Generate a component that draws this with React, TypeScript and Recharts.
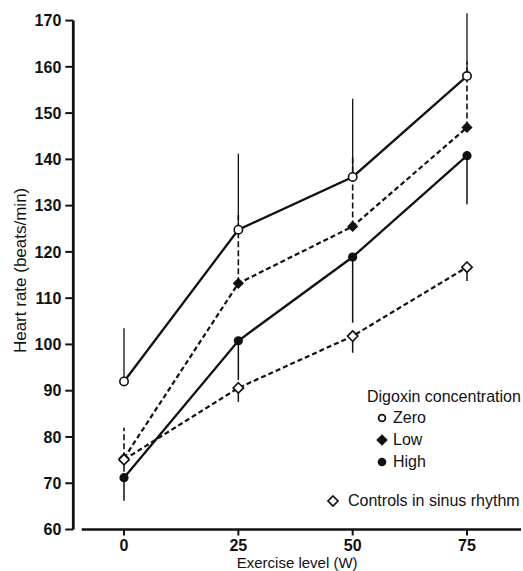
import {
  LineChart,
  Line,
  XAxis,
  YAxis,
  ErrorBar,
  ReferenceLine,
  Legend,
} from "recharts";

const INK = "#111";
const FONT = "'Liberation Sans', Arial, sans-serif";

const exerciseLevels = [0, 25, 50, 75];
const zeroMean = [92, 124.8, 136.2, 158];
const zeroUpper = [103.5, 141.2, 153.1, 171.6];
const lowMean = [75.4, 113.2, 125.5, 146.9];
const lowUpper = [82, 128, 140.6, 161.1];
const highMean = [71.2, 100.8, 118.9, 140.8];
const highLower = [66.2, 92.3, 104.7, 130.3];
const controlsMean = [75.1, 90.6, 101.8, 116.7];
const controlsLower = [72.5, 87.6, 98.2, 113.7];

const xTicks = [0, 25, 50, 75];
const yTicks = [60, 70, 80, 90, 100, 110, 120, 130, 140, 150, 160, 170];
const X_MIN = -11.09;
const X_MAX = 86.81;
const X_LINE_START = -9.26;

const digoxinLevels = ["Zero", "Low", "High"];
const controlsName = "Controls in sinus rhythm";

const data = exerciseLevels.map((x, i) => ({
  x,
  zero: zeroMean[i],
  zeroErr: [0, zeroUpper[i] - zeroMean[i]],
  low: lowMean[i],
  lowErr: [0, lowUpper[i] - lowMean[i]],
  high: highMean[i],
  highErr: [highMean[i] - highLower[i], 0],
  controls: controlsMean[i],
  controlsErr: [controlsMean[i] - controlsLower[i], 0],
}));

const diamond = (cx: number, cy: number, r: number) =>
  `M${cx},${cy - r}L${cx + r},${cy}L${cx},${cy + r}L${cx - r},${cy}Z`;

const openCircle = (p: any) => (
  <circle key={`zc${p.index}`} cx={p.cx} cy={p.cy} r={4.2} fill="#fff" stroke={INK} strokeWidth={1.6} />
);
const filledCircle = (p: any) => (
  <circle key={`hc${p.index}`} cx={p.cx} cy={p.cy} r={4.6} fill={INK} stroke="none" />
);
const filledDiamond = (p: any) => (
  <path key={`ld${p.index}`} d={diamond(p.cx, p.cy, 5.6)} fill={INK} stroke="none" />
);
const openDiamond = (p: any) => (
  <path key={`cd${p.index}`} d={diamond(p.cx, p.cy, 5.2)} fill="#fff" stroke={INK} strokeWidth={1.6} />
);

const icons: Record<string, JSX.Element> = {
  Zero: <circle cx={7} cy={7} r={3.4} fill="#fff" stroke={INK} strokeWidth={1.8} />,
  Low: <path d={diamond(7, 7, 5.8)} fill={INK} />,
  High: <circle cx={7} cy={7} r={4.3} fill={INK} />,
};

function LegendBox() {
  const text = { position: "absolute" as const, fontFamily: FONT, fontSize: 16, lineHeight: "20px", color: INK, whiteSpace: "nowrap" as const };
  return (
    <div style={{ position: "relative", width: 203, height: 130 }}>
      <div style={{ ...text, left: 47, top: 1.7 }}>Digoxin concentration</div>
      {digoxinLevels.map((name, i) => (
        <div key={name}>
          <svg width={14} height={14} style={{ position: "absolute", left: 55, top: 25.7 + i * 22.3 }}>
            {icons[name]}
          </svg>
          <div style={{ ...text, left: 73, top: 22.7 + i * 22.3 }}>{name}</div>
        </div>
      ))}
      <svg width={14} height={14} style={{ position: "absolute", left: 6, top: 108.7 }}>
        <path d={diamond(7, 7, 5)} fill="#fff" stroke={INK} strokeWidth={1.7} />
      </svg>
      <div style={{ ...text, left: 28, top: 105.7 }}>{controlsName}</div>
    </div>
  );
}

export default function App() {
  const tick = { fill: INK, fontSize: 16, fontFamily: FONT, fontWeight: 700 };
  return (
    <div style={{ position: "absolute", left: 0, top: 0, background: "#fff" }}>
      <LineChart width={523} height={571} data={data} margin={{ top: 11.3, right: 2, bottom: 16.5, left: 10 }}>
        <XAxis
          dataKey="x"
          type="number"
          domain={[X_MIN, X_MAX]}
          ticks={xTicks}
          height={25}
          axisLine={false}
          tickLine={{ stroke: INK, strokeWidth: 2 }}
          tickSize={6}
          tickMargin={4}
          tick={tick}
          label={{ value: "Exercise level (W)", position: "bottom", offset: 2.5, style: { fontFamily: FONT, fontSize: 15, fill: INK } }}
        />
        <YAxis
          type="number"
          domain={[60, 172]}
          ticks={yTicks}
          width={63.3}
          axisLine={false}
          tickLine={{ stroke: INK, strokeWidth: 2 }}
          tickSize={8}
          tickMargin={4}
          tick={tick}
          label={{ value: "Heart rate (beats/min)", angle: -90, position: "insideLeft", offset: 10, style: { fontFamily: FONT, fontSize: 17, fill: INK, textAnchor: "middle" } }}
        />
        <ReferenceLine segment={[{ x: X_MIN, y: 60 }, { x: X_MIN, y: 170 }]} stroke={INK} strokeWidth={2.8} ifOverflow="visible" />
        <ReferenceLine segment={[{ x: X_LINE_START, y: 60 }, { x: X_MAX, y: 60 }]} stroke={INK} strokeWidth={2.5} ifOverflow="visible" />
        <Legend
          layout="vertical"
          align="center"
          verticalAlign="middle"
          content={() => <LegendBox />}
          wrapperStyle={{ left: 320, top: 385, width: 203 }}
        />
        <Line dataKey="high" name="High" stroke={INK} strokeWidth={2.3} dot={filledCircle} activeDot={false} isAnimationActive={false}>
          <ErrorBar dataKey="highErr" direction="y" width={0} stroke={INK} strokeWidth={1.5} isAnimationActive={false} />
        </Line>
        <Line dataKey="low" name="Low" stroke={INK} strokeWidth={2.2} strokeDasharray="5 3" dot={filledDiamond} activeDot={false} isAnimationActive={false}>
          <ErrorBar dataKey="lowErr" direction="y" width={0} stroke={INK} strokeWidth={1.6} strokeDasharray="6 3" isAnimationActive={false} />
        </Line>
        <Line dataKey="controls" name={controlsName} stroke={INK} strokeWidth={2.2} strokeDasharray="5 3" dot={openDiamond} activeDot={false} isAnimationActive={false}>
          <ErrorBar dataKey="controlsErr" direction="y" width={0} stroke={INK} strokeWidth={1.5} isAnimationActive={false} />
        </Line>
        <Line dataKey="zero" name="Zero" stroke={INK} strokeWidth={2.3} dot={openCircle} activeDot={false} isAnimationActive={false}>
          <ErrorBar dataKey="zeroErr" direction="y" width={0} stroke={INK} strokeWidth={1.3} isAnimationActive={false} />
        </Line>
      </LineChart>
    </div>
  );
}
